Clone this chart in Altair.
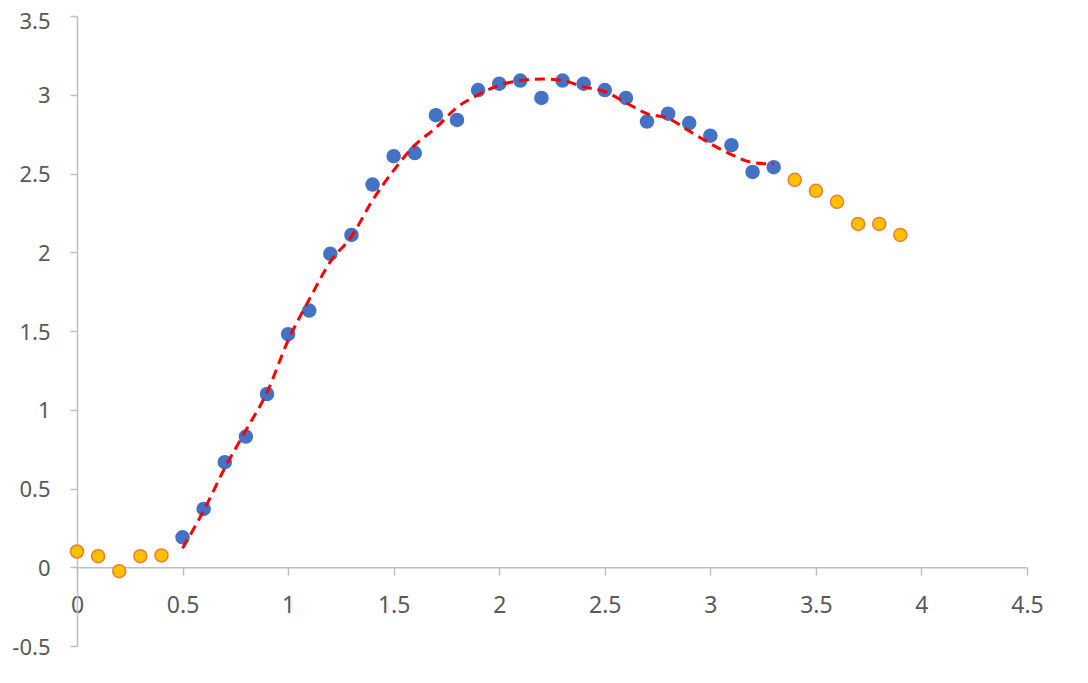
import altair as alt
import pandas as pd

# Observed points
orange_x = [0.0, 0.1, 0.2, 0.3, 0.4, 3.4, 3.5, 3.6, 3.7, 3.8, 3.9]
orange_y = [0.10, 0.07, -0.025, 0.07, 0.075, 2.46, 2.39, 2.32, 2.18, 2.18, 2.11]

blue_x = [0.5, 0.6, 0.7, 0.8, 0.9, 1.0, 1.1, 1.2, 1.3, 1.4, 1.5, 1.6, 1.7, 1.8, 1.9,
          2.0, 2.1, 2.2, 2.3, 2.4, 2.5, 2.6, 2.7, 2.8, 2.9, 3.0, 3.1, 3.2, 3.3]
blue_y = [0.19, 0.37, 0.667, 0.83, 1.10, 1.48, 1.63, 1.99, 2.11, 2.43, 2.61, 2.63, 2.87, 2.84, 3.03,
          3.07, 3.09, 2.98, 3.09, 3.07, 3.03, 2.98, 2.83, 2.88, 2.82, 2.74, 2.68, 2.51, 2.54]

# Fitted (dashed red) curve
fit_x = blue_x
fit_y = [0.12, 0.36, 0.63, 0.87, 1.11, 1.44, 1.70, 1.94, 2.10, 2.33, 2.52, 2.68, 2.79, 2.92, 3.00,
         3.06, 3.09, 3.10, 3.09, 3.05, 3.02, 2.95, 2.88, 2.85, 2.77, 2.69, 2.62, 2.57, 2.56]

x_ticks = [0, 0.5, 1, 1.5, 2, 2.5, 3, 3.5, 4, 4.5]
y_ticks = [-0.5, 0, 0.5, 1, 1.5, 2, 2.5, 3, 3.5]

W, H = 950, 630

pts = pd.DataFrame({
    "x": orange_x + blue_x,
    "y": orange_y + blue_y,
    "g": ["orange"] * len(orange_x) + ["blue"] * len(blue_x),
})
fit = pd.DataFrame({"x": fit_x, "y": fit_y})

FONT = "Noto Sans"
TXT = "#595959"
AX = "#BFBFBF"

xscale = alt.Scale(domain=[0, 4.5], nice=False, zero=False)
yscale = alt.Scale(domain=[-0.5, 3.5], nice=False, zero=False)

xaxis = alt.Axis(values=x_ticks, labelExpr="datum.value", title=None, grid=False,
                 offset=-H * 0.5 / 4, domainColor=AX, domainWidth=1.5, tickColor=AX,
                 tickWidth=1.5, tickSize=8, labelColor=TXT, labelFont=FONT, labelFontSize=23,
                 labelPadding=19, labelFlush=False, labelOverlap=False)
yaxis = alt.Axis(values=y_ticks, labelExpr="datum.value", title=None, grid=False,
                 domainColor=AX, domainWidth=1.5, tickColor=AX, tickWidth=1.5, tickSize=7,
                 labelColor=TXT, labelFont=FONT, labelFontSize=22, labelPadding=20,
                 labelOffset={"condition": {"test": "datum.value == 3.5", "value": 5}, "value": 1},
                 labelFlush=False, labelOverlap=False)

line = alt.Chart(fit).mark_line(color="#FF0000", strokeWidth=3, strokeDash=[10, 6],
                                interpolate="monotone").encode(
    x=alt.X("x:Q", scale=xscale, axis=xaxis),
    y=alt.Y("y:Q", scale=yscale, axis=yaxis),
)

points = alt.Chart(pts).mark_point(filled=False, size=170, strokeWidth=1.5, opacity=1, shape="circle").encode(
    x=alt.X("x:Q", scale=xscale),
    y=alt.Y("y:Q", scale=yscale),
    fill=alt.Fill("g:N", scale=alt.Scale(domain=["orange", "blue"], range=["#FFC000", "#4472C4"]), legend=None),
    stroke=alt.Stroke("g:N", scale=alt.Scale(domain=["orange", "blue"], range=["#ED7D31", "#4472C4"]), legend=None),
)

chart = alt.layer(points, line).properties(
    width=W, height=H,
    background="white",
    autosize=alt.AutoSizeParams(type="none"),
    padding={"left": 69, "top": 8, "right": 40, "bottom": 30},
).configure_view(stroke=None)

chart.save("out.html", embed_options={"renderer": "svg", "actions": False})
